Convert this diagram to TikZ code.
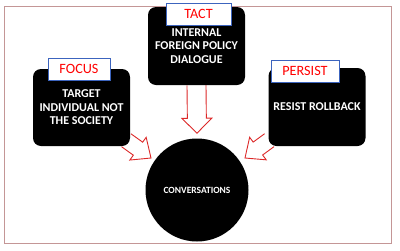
\documentclass[tikz,border=0pt]{standalone}
\usepackage{fontspec}
\setmainfont{Carlito}[BoldFont={Carlito Bold}]
\usetikzlibrary{calc,backgrounds}
\definecolor{framecol}{RGB}{196,150,150}
\definecolor{arrowred}{RGB}{220,40,40}
\definecolor{tagblue}{RGB}{60,100,190}
\definecolor{tagred}{RGB}{255,0,0}
\tikzset{
  darkbox/.style={fill=black, rounded corners=8pt, minimum width=97pt, minimum height=78pt,
    inner sep=0pt, text=white, align=center, font=\bfseries\fontsize{12}{13.5}\selectfont},
  labeltag/.style={draw=tagblue, fill=white, line width=0.9pt, text=tagred, inner sep=0pt,
    minimum height=22pt, font=\fontsize{14.2}{16}\selectfont},
  hollow/.style={draw=arrowred, line width=0.9pt, line join=miter},
}
% #1 prefix, #2 start, #3 tip, #4 shaft half width, #5 head half width, #6 head length
\newcommand{\blockarrowdraw}[6]{%
  \coordinate (#1b) at ($(#3)!#6!(#2)$);
  \draw[hollow] ($(#2)!#4!90:(#3)$) -- ($(#1b)!#4!90:(#3)$) -- ($(#1b)!#5!90:(#3)$) -- (#3)
    -- ($(#1b)!#5!-90:(#3)$) -- ($(#1b)!#4!-90:(#3)$) -- ($(#2)!#4!-90:(#3)$);
}
\begin{document}
\begin{tikzpicture}[x=1pt, y=-1pt]
\useasboundingbox (0,0) rectangle (400,250);
\node[darkbox, minimum height=77pt] (focus) at (81.5,107.5) {TARGET\\INDIVIDUAL NOT\\THE SOCIETY};
\node[labeltag, minimum width=62pt] (focustag) at (79,69) {FOCUS};
\node[darkbox] (tact) at (196.5,46) {INTERNAL\\FOREIGN POLICY\\DIALOGUE};
\node[labeltag, minimum width=65pt] (tacttag) at (198.5,14) {TACT};
\node[darkbox] (persist) at (317,107) {RESIST ROLLBACK};
\node[labeltag, minimum width=68pt] (persisttag) at (305,71) {PERSIST};
\node[circle, fill=black, minimum size=103pt, inner sep=0pt, text=white,
  font=\bfseries\fontsize{9.5}{11}\selectfont] (conv) at (197,190) {CONVERSATIONS};
\begin{scope}[on background layer]
  \draw[framecol, line width=0.8pt] (4,6) rectangle (391,243);
  \coordinate (a1s) at ($(focus.south east)+(-4,-6)$);
  \coordinate (a1e) at ($(conv.center)+(-46,-32)$);
  \coordinate (a2s) at (tact.south);
  \coordinate (a2e) at ($(tact.south)+(0.5,48)$);
  \coordinate (a3s) at ($(persist.south west)+(1,-6)$);
  \coordinate (a3e) at ($(conv.center)+(48,-32)$);
  \blockarrowdraw{l}{a1s}{a1e}{8pt}{14pt}{16pt}
  \blockarrowdraw{m}{a2s}{a2e}{9.5pt}{15pt}{15pt}
  \blockarrowdraw{r}{a3s}{a3e}{8pt}{14pt}{16pt}
\end{scope}
\end{tikzpicture}
\end{document}
